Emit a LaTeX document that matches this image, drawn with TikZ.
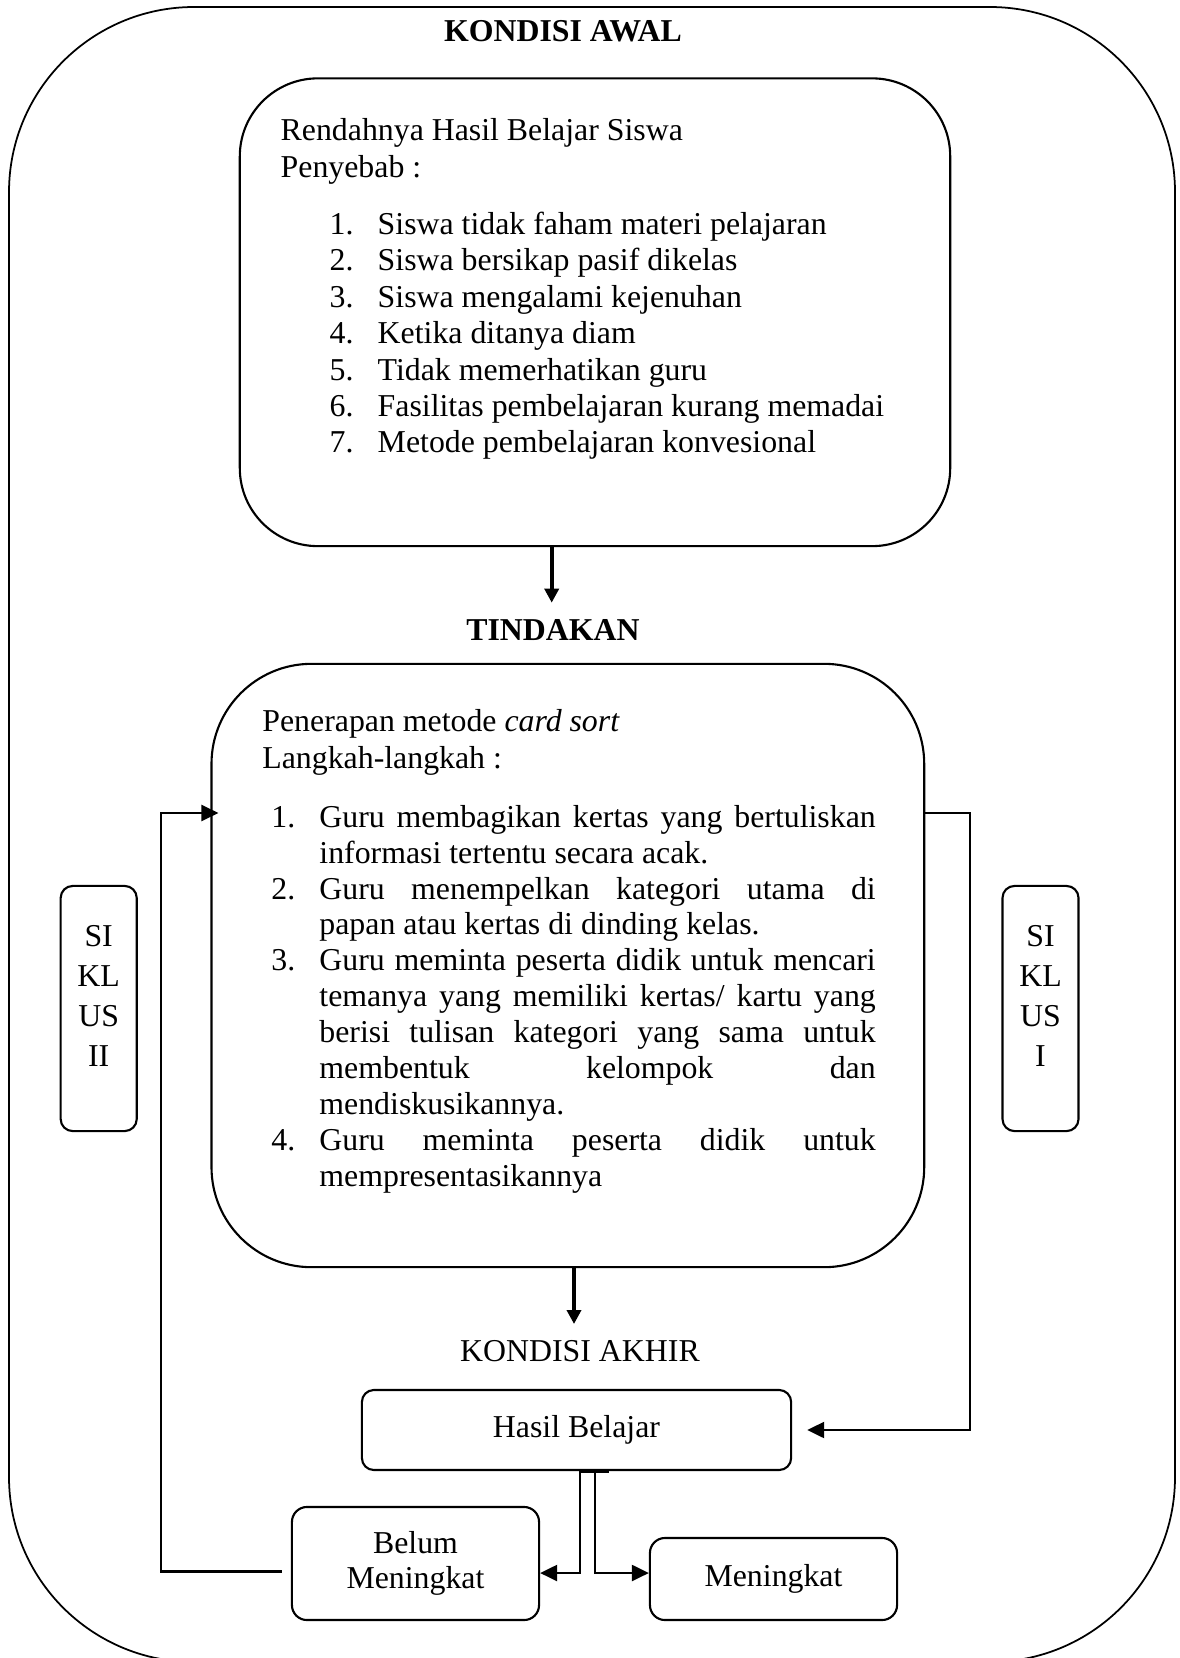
\documentclass[tikz,border=0pt]{standalone}
\usepackage{fontspec}
\setmainfont{Liberation Serif}
\usetikzlibrary{arrows.meta}
\newcommand{\itemno}[1]{\makebox[0.48cm][l]{#1}}
\newcommand{\fullline}[1]{\makebox[5.56cm][s]{#1}}

\begin{document}
\begin{tikzpicture}[
  x=0.01cm, y=-0.01cm,
  font=\fontsize{9.05}{10.35}\selectfont,
  frame/.style={draw, line width=0.5pt, rounded corners=1.85cm},
  bigbox/.style={draw, line width=0.6pt, inner sep=0pt},
  smallbox/.style={draw, line width=0.6pt, rounded corners=0.12cm, inner sep=0pt, align=center},
  sidebox/.style={smallbox, minimum width=0.76cm, minimum height=2.45cm},
  textblock/.style={anchor=base west, inner sep=0pt, align=left},
  heading/.style={anchor=base, inner sep=0pt},
  title/.style={heading, font=\fontsize{9.05}{10.35}\selectfont\bfseries},
  sidetext/.style={heading, align=center, font=\fontsize{9.05}{11.38}\selectfont},
  arrow/.style={-{Triangle[length=0.14cm,width=0.14cm]}, line width=1.14pt},
  looparrow/.style={-{Triangle[length=0.17cm,width=0.16cm]}, line width=0.65pt}
]
\useasboundingbox (0,0) rectangle (1179,1658);
\draw[frame] (9,7) rectangle (1175,1662);

% kondisi awal (text blocks sit on their last baseline)
\node[title] (kawal) at (563,41.7) {KONDISI AWAL};
\node[bigbox, rounded corners=0.78cm, minimum width=7.10cm, minimum height=4.675cm] (masalah) at (595,312.25) {};
\node[textblock] (sebab) at (280,177.3) {Rendahnya Hasil Belajar Siswa\\Penyebab :};
\node[textblock] (sebablist) at (329,452.8) {%
  \itemno{1.}Siswa tidak faham materi pelajaran\\
  \itemno{2.}Siswa bersikap pasif dikelas\\
  \itemno{3.}Siswa mengalami kejenuhan\\
  \itemno{4.}Ketika ditanya diam\\
  \itemno{5.}Tidak memerhatikan guru\\
  \itemno{6.}Fasilitas pembelajaran kurang memadai\\
  \itemno{7.}Metode pembelajaran konvesional};

% tindakan
\node[title] (tind) at (553,640) {TINDAKAN};
\node[bigbox, rounded corners=1.0cm, minimum width=7.123cm, minimum height=6.03cm] (langkah) at (567.85,965.5) {};
\node[textblock] (metode) at (261.7,768.3) {Penerapan metode \textit{card sort}\\Langkah-langkah :};
\node[textblock, font=\fontsize{9.05}{10.2}\selectfont] (langkahlist) at (270.7,1186) {%
  \itemno{1.}\fullline{Guru membagikan kertas yang bertuliskan}\\
  \itemno{}informasi tertentu secara acak.\\
  \itemno{2.}\fullline{Guru menempelkan kategori utama di}\\
  \itemno{}papan atau kertas di dinding kelas.\\
  \itemno{3.}\fullline{Guru meminta peserta didik untuk mencari}\\
  \itemno{}\fullline{temanya yang memiliki kertas/ kartu yang}\\
  \itemno{}\fullline{berisi tulisan kategori yang sama untuk}\\
  \itemno{}\fullline{membentuk kelompok dan}\\
  \itemno{}mendiskusikannya.\\
  \itemno{4.}\fullline{Guru meminta peserta didik untuk}\\
  \itemno{}mempresentasikannya};

% siklus
\node[sidebox] (siklus2) at (98.7,1008.5) {};
\node[sidetext] (s2text) at (98.7,1066.7) {SI\\KL\\US\\II};
\node[sidebox] (siklus1) at (1040.5,1008.5) {};
\node[sidetext] (s1text) at (1040.5,1066.7) {SI\\KL\\US\\I};

% kondisi akhir
\node[heading] (kakhir) at (580,1361.7) {KONDISI AKHIR};
\node[smallbox, minimum width=4.29cm, minimum height=0.80cm] (hasil) at (576.5,1430) {Hasil Belajar};
\node[smallbox, rounded corners=0.15cm, minimum width=2.47cm, minimum height=1.13cm, font=\fontsize{9.05}{10.1}\selectfont] (belum) at (415.5,1563.5) {Belum\\Meningkat};
\node[smallbox, rounded corners=0.15cm, minimum width=2.47cm, minimum height=0.82cm] (naik) at (773.5,1579) {Meningkat};

\coordinate (tip1) at (551.7,602.7);
\coordinate (tip2) at (574,1324);
\coordinate (loopr) at (970,813);
\coordinate (loopl) at (161,813);
\coordinate (entryl) at (langkah.west |- loopl);

\draw[arrow] (masalah.south -| tip1) -- (tip1);
\draw[arrow] (langkah.south -| tip2) -- (tip2);
\draw[looparrow] (langkah.east |- loopr) -- (loopr) |- ([xshift=0.15cm]hasil.east);
\draw[looparrow] ([shift={(-0.09cm,-0.08cm)}]belum.west) -| (loopl) -- ([xshift=0.08cm]entryl);
\draw[looparrow] ([xshift=0.035cm]hasil.south) |- ([yshift=-0.095cm]belum.east);
\draw[looparrow] ([xshift=0.185cm]hasil.south) |- ([yshift=0.06cm]naik.west);
\draw[line width=1pt] ([xshift=0.035cm]hasil.south) -- ([xshift=0.325cm]hasil.south);
\end{tikzpicture}
\end{document}
